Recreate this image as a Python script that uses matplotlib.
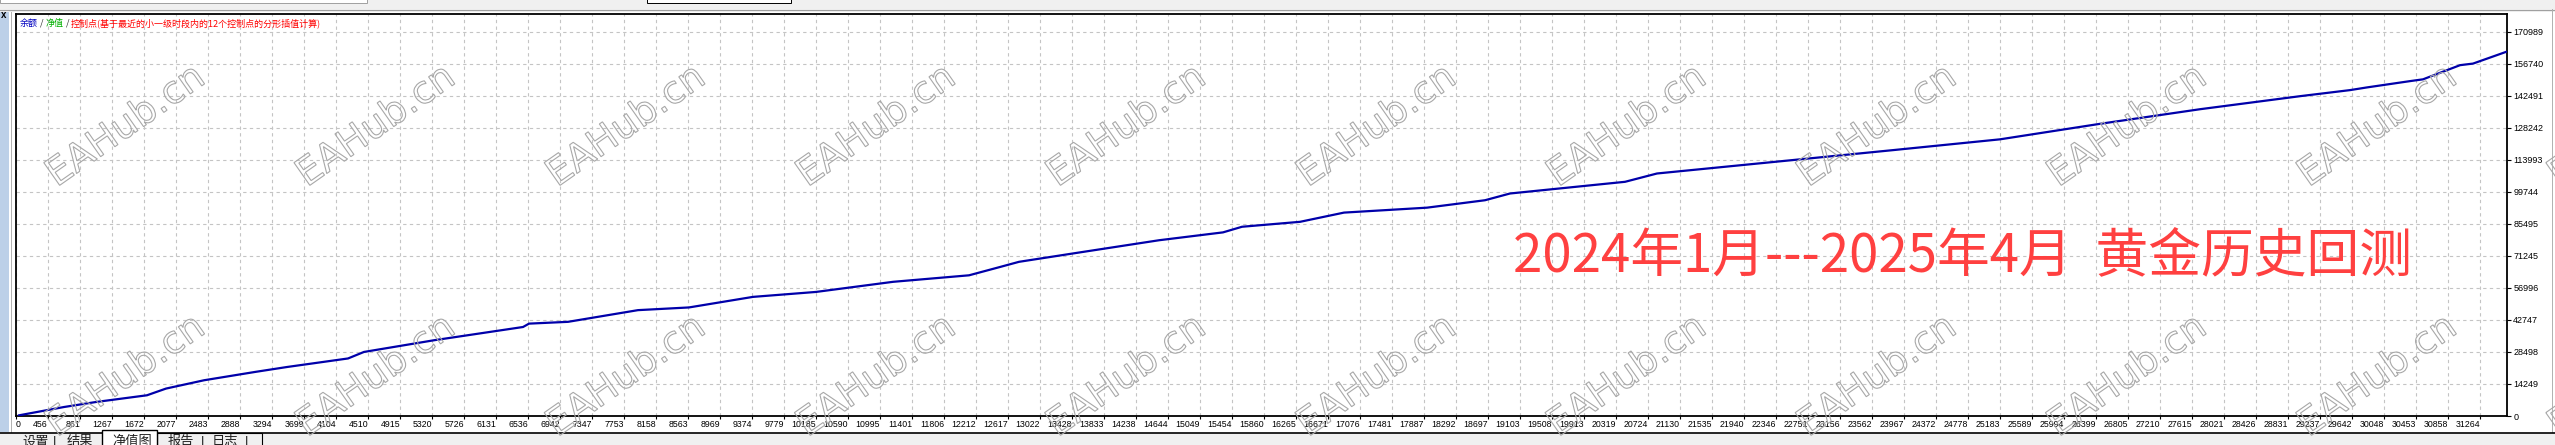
import matplotlib
matplotlib.use("Agg")
import matplotlib.pyplot as plt
import matplotlib.transforms as mtransforms
from matplotlib.patches import Rectangle, PathPatch
from matplotlib.textpath import TextPath
from matplotlib.font_manager import FontProperties
import numpy as np

plt.rcParams['font.family'] = ['Liberation Sans', 'Noto Sans CJK SC', 'DejaVu Sans']

W, H = 2555, 445

# balance curve (trade number, balance)
trade_no = [38, 608, 1013, 1659, 1900, 2382, 3028, 3433, 4206, 4408, 5295, 6423,
            6499, 6993, 7879, 8525, 9336, 10134, 11110, 12073, 12465, 12706, 13441,
            14480, 15290, 15531, 16266, 16823, 17875, 18609, 18926, 20383, 20788,
            22486, 23778, 25133, 26400, 27667, 28934, 29567, 29782, 30327, 30492,
            30745, 30961, 31125, 31543]
balance = [300, 4000, 6230, 9220, 12200, 15900, 19600, 21800, 25600, 28500, 33700,
           39600, 41100, 41900, 47100, 48300, 53000, 55200, 59700, 62600, 66300,
           68600, 72600, 78200, 81700, 84200, 86400, 90500, 92700, 96000, 99000,
           104200, 107900, 113800, 118300, 123100, 130000, 136500, 142300, 145000,
           146200, 149000, 149800, 153200, 156100, 156800, 162000]

x_tick_labels = ['0', '456', '861', '1267', '1672', '2077', '2483', '2888', '3294', '3699',
                 '4104', '4510', '4915', '5320', '5726', '6131', '6536', '6942', '7347',
                 '7753', '8158', '8563', '8969', '9374', '9779', '10185', '10590', '10995',
                 '11401', '11806', '12212', '12617', '13022', '13428', '13833', '14238',
                 '14644', '15049', '15454', '15860', '16265', '16671', '17076', '17481',
                 '17887', '18292', '18697', '19103', '19508', '19913', '20319', '20724',
                 '21130', '21535', '21940', '22346', '22751', '23156', '23562', '23967',
                 '24372', '24778', '25183', '25589', '25994', '26399', '26805', '27210',
                 '27615', '28021', '28426', '28831', '29237', '29642', '30048', '30453',
                 '30858', '31264']
y_tick_values = [0, 14249, 28498, 42747, 56996, 71245, 85495, 99744, 113993,
                 128242, 142491, 156740, 170989]
x_step = 405.37

title_text = '2024年1月---2025年4月  黄金历史回测'
legend_parts = [('余额', '#0000c0'), (' / ', '#303030'), ('净值', '#00b000'),
                (' / ', '#303030'), ('控制点(基于最近的小一级时段内的12个控制点的分形插值计算)', '#ff0000')]
tab_names = [('设置', 22), ('|', 53), ('结果', 67), ('净值图', 112), ('报告', 168),
             ('|', 201), ('日志', 212), ('|', 245)]


def rect(x0, y0, x1, y1, **kw):
    # pixel box, y counted from the top
    r = Rectangle((x0, H - y1), x1 - x0, y1 - y0,
                  transform=mtransforms.IdentityTransform(), **kw)
    fig.add_artist(r)


def hline(y, x0, x1, **kw):
    fig.add_artist(plt.Line2D([x0, x1], [H - y, H - y],
                              transform=mtransforms.IdentityTransform(), **kw))


def vline(x, y0, y1, **kw):
    fig.add_artist(plt.Line2D([x, x], [H - y0, H - y1],
                              transform=mtransforms.IdentityTransform(), **kw))


fig = plt.figure(figsize=(W / 100, H / 100), dpi=100, facecolor='white')

# window chrome
rect(0, 0, W, 9, fc='#f0f0f0', ec='none', zorder=0)
rect(0, -2, 367, 3, fc='white', ec='#a0a0a0', lw=0.7, zorder=1)
rect(647, -2, 791, 3, fc='white', ec='black', lw=0.7, zorder=1)
hline(9.5, 0, W, color='#a0a0a0', lw=1.0, zorder=1)
rect(0, 12, 9, 432, fc='#bcd0e8', ec='none', zorder=1)
vline(11, 12, 432, color='#b0b0b0', lw=0.7, zorder=1)
vline(2552, 9, 432, color='#b0b0b0', lw=0.7, zorder=1)
fig.text(1 / W, 1 - 15 / H, 'x', fontsize=7, fontweight='bold', va='center', ha='left')

rect(0, 433, W, H + 2, fc='#f0f0f0', ec='none', zorder=1)
hline(433, 0, W, color='black', lw=1.2, zorder=2)
rect(102, 430, 157, H + 3, fc='white', ec='black', lw=1.0, zorder=3)
rect(157, 433, 262, H + 3, fc='#f0f0f0', ec='black', lw=0.8, zorder=2)
for name, px in tab_names:
    fig.text(px / W, 1 - 436 / H, name, fontsize=9.5, color='#202020',
             ha='left', va='top', zorder=4)

# chart area
ax = fig.add_axes([16 / W, 1 - 416 / H, (2507 - 16) / W, (416 - 14) / H])
ax.set_xlim(0, (2507 - 16) / 32 * x_step)
ax.set_ylim(0, 170989 + (31.7 - 14) * 170989 / (416 - 31.7))

ax.plot(trade_no, balance, color='#0000aa', lw=1.6, zorder=3, solid_joinstyle='miter')

ax.set_xticks(np.arange(len(x_tick_labels)) * x_step)
ax.set_xticklabels(x_tick_labels, fontsize=6.3)
for i, lab in enumerate(ax.get_xticklabels()):
    lab.set_horizontalalignment('left' if i == 0 else 'right')
ax.tick_params(axis='x', length=2.2, width=0.8, pad=1.0, direction='out')

ax.yaxis.tick_right()
ax.set_yticks(y_tick_values)
ax.set_yticklabels([str(v) for v in y_tick_values], fontsize=6.5)
ax.tick_params(axis='y', length=3, width=0.8, pad=1.5, direction='out')

ax.grid(True, color='#c4c4c4', linestyle=(0, (3, 3)), linewidth=0.8)
ax.set_axisbelow(True)
for s in ax.spines.values():
    s.set_linewidth(1.3)
    s.set_color('black')

# legend line at top-left
prev = None
for txt, col in legend_parts:
    if prev is None:
        prev = ax.annotate(txt, xy=(20 / W, 1 - 23 / H), xycoords='figure fraction',
                           fontsize=6.5, color=col, va='center', ha='left',
                           family=['Noto Sans CJK SC', 'DejaVu Sans'])
    else:
        prev = ax.annotate(txt, xy=(1, 0.5), xycoords=prev, fontsize=6.5, color=col,
                           va='center', ha='left', family=['Noto Sans CJK SC', 'DejaVu Sans'])

# big red annotation
fig.text(1513 / W, 1 - 256 / H, title_text, fontsize=38, color='#ff4040',
         family=['Noto Sans CJK SC'], ha='left', va='center', zorder=5)

# watermark
wm = TextPath((0, 0), 'EAHub.cn', size=38, prop=FontProperties(family='DejaVu Sans'))
bb = wm.get_extents()
for cy in [123, 373]:
    for cx in np.arange(124, 2700, 250.2):
        tr = (mtransforms.Affine2D()
              .translate(-(bb.x0 + bb.x1) / 2, -(bb.y0 + bb.y1) / 2)
              .rotate_deg(35).translate(cx, H - cy))
        fig.add_artist(PathPatch(tr.transform_path(wm), transform=mtransforms.IdentityTransform(),
                                 fc='none', ec='#a8a8a8', lw=0.8, zorder=6))

fig.savefig('out.png', dpi=100, facecolor='white')
